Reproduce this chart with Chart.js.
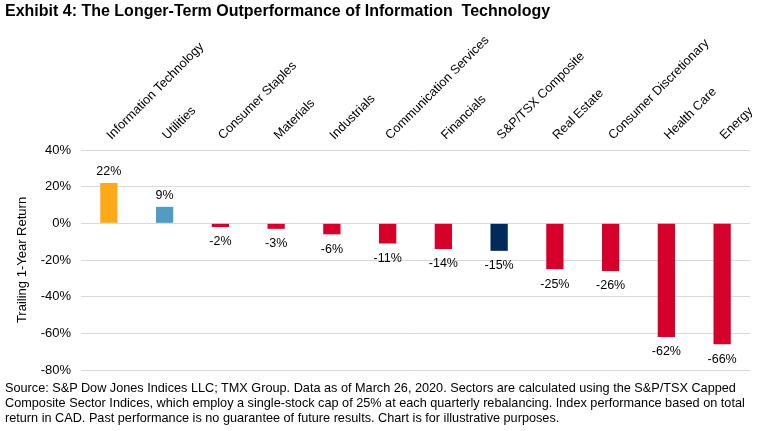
<!DOCTYPE html>
<html>
<head>
<meta charset="utf-8">
<script src="https://cdn.jsdelivr.net/npm/chart.js@4.4.1/dist/chart.umd.min.js"></script>
<style>
  body { margin: 0; background: #fff; font-family: "Liberation Sans", Arial, sans-serif; color: #000; }
  #wrap { position: relative; width: 759px; height: 431px; overflow: hidden; }
  #title { position: absolute; left: 5px; top: 2px; font-size: 16px; font-weight: bold; white-space: pre; }
  #note { position: absolute; left: 5px; top: 381px; font-size: 12.7px; line-height: 15px; white-space: nowrap; }
  canvas { position: absolute; left: 0; top: 0; }
</style>
</head>
<body>
<div id="wrap">
  <canvas id="sectorChart" width="759" height="431"></canvas>
  <div id="title">Exhibit 4: The Longer-Term Outperformance of Information  Technology</div>
  <div id="note">Source: S&amp;P Dow Jones Indices LLC; TMX Group. Data as of March 26, 2020. Sectors are calculated using the S&amp;P/TSX Capped<br>Composite Sector Indices, which employ a single-stock cap of 25% at each quarterly rebalancing. Index performance based on total<br>return in CAD. Past performance is no guarantee of future results. Chart is for illustrative purposes.</div>
</div>
<script>
const sectors = ['Information Technology', 'Utilities', 'Consumer Staples', 'Materials', 'Industrials',
  'Communication Services', 'Financials', 'S&P/TSX Composite', 'Real Estate', 'Consumer Discretionary',
  'Health Care', 'Energy'];
const returns = [22, 9, -2, -3, -6, -11, -14, -15, -25, -26, -62, -66];
const barColors = ['#FCAA1A', '#519CC4', '#D6002D', '#D6002D', '#D6002D', '#D6002D', '#D6002D',
  '#002A5A', '#D6002D', '#D6002D', '#D6002D', '#D6002D'];
const yMin = -80;
const yMax = 40;
const yStep = 20;

const FONT = '"Liberation Sans", Arial, sans-serif';

// value labels above / below each bar
const valueLabels = {
  id: 'valueLabels',
  afterDatasetsDraw(chart) {
    const ctx = chart.ctx;
    const meta = chart.getDatasetMeta(0);
    ctx.save();
    ctx.font = '12.5px ' + FONT;
    ctx.fillStyle = '#000';
    ctx.textAlign = 'center';
    ctx.textBaseline = 'middle';
    meta.data.forEach((bar, i) => {
      const v = returns[i];
      const y = v >= 0 ? bar.y - 11 : bar.y + 15;
      ctx.fillText(v + '%', bar.x, y);
    });
    ctx.restore();
  }
};

new Chart(document.getElementById('sectorChart'), {
  type: 'bar',
  data: {
    labels: sectors,
    datasets: [{
      data: returns,
      backgroundColor: barColors,
      barPercentage: 0.31,
      categoryPercentage: 1
    }]
  },
  options: {
    responsive: false,
    animation: false,
    layout: { padding: { left: 0, right: 9, top: 25, bottom: 61 } },
    plugins: {
      legend: { display: false },
      tooltip: { enabled: false }
    },
    scales: {
      x: {
        position: 'top',
        grid: { display: false, drawTicks: false },
        border: { display: false },
        ticks: {
          autoSkip: false,
          minRotation: 45,
          maxRotation: 45,
          padding: 7,
          labelOffset: 11,
          color: '#000',
          font: { family: FONT, size: 12.7 }
        },
        afterFit: (scale) => { scale.height = 125; }
      },
      y: {
        min: yMin,
        max: yMax,
        grid: { color: '#D9D9D9', lineWidth: 1, drawTicks: false },
        border: { display: false },
        ticks: {
          stepSize: yStep,
          padding: 10,
          color: '#000',
          font: { family: FONT, size: 13 },
          callback: (v) => v + '%'
        },
        title: {
          display: true,
          text: 'Trailing 1-Year Return',
          color: '#000',
          font: { family: FONT, size: 13 },
          padding: { top: 15, bottom: 0 }
        },
        afterFit: (scale) => { scale.width = 81; }
      }
    }
  },
  plugins: [valueLabels]
});
</script>
</body>
</html>
